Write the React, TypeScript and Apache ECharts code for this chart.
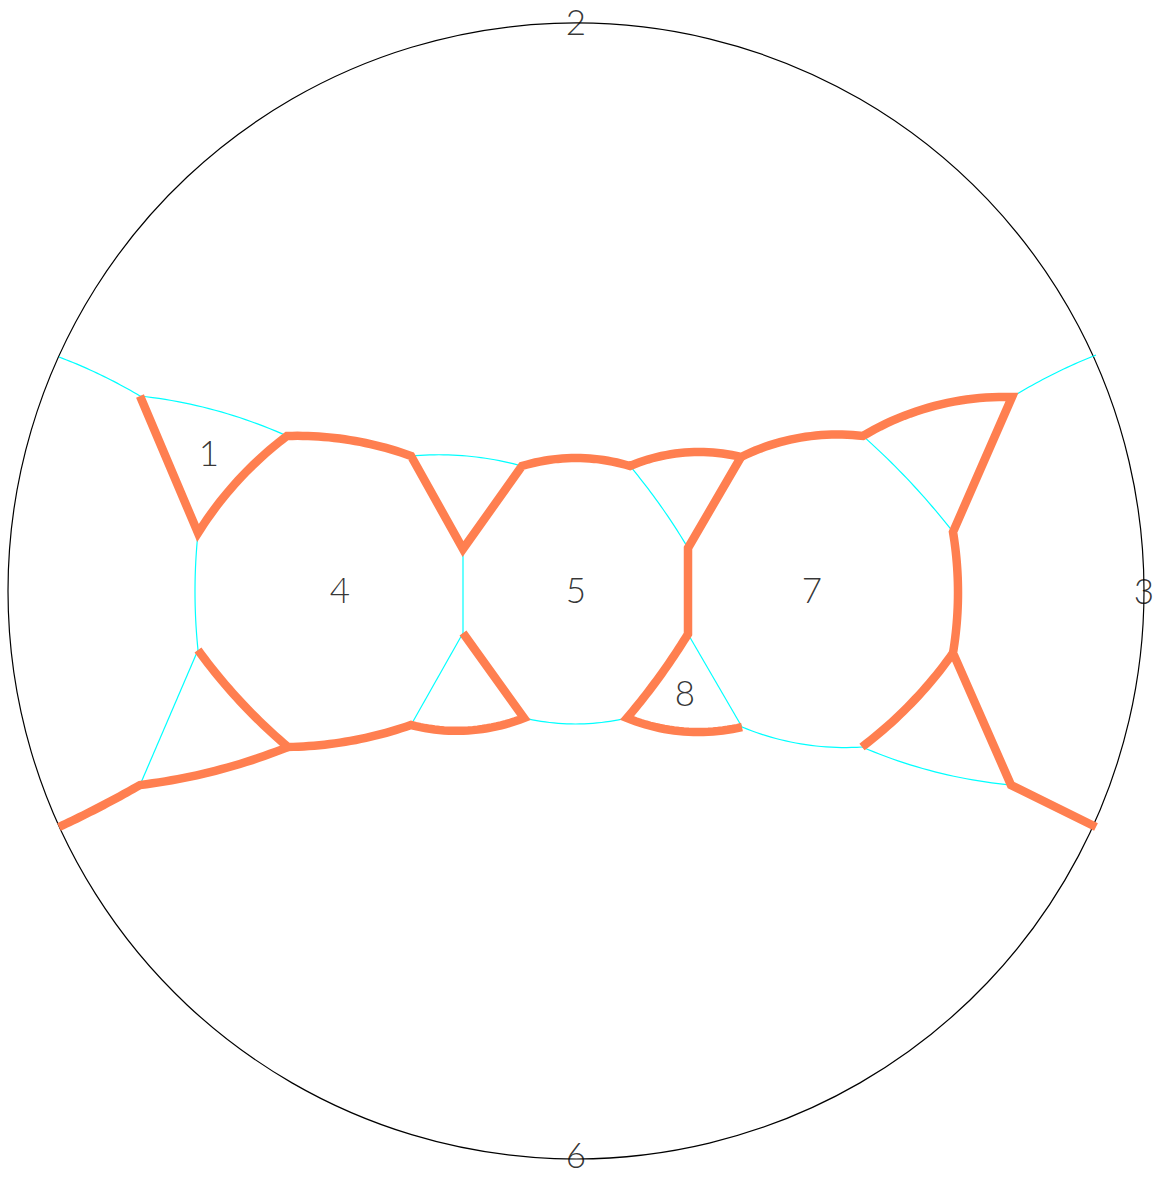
import React, { useEffect, useRef } from "react";
import * as echarts from "echarts";

// Vertices of the drawing, in disk units (disk centre at 0,0; radius 568; y up)
const vertexNames = ["A", "B", "C", "D", "E", "F", "G", "H", "I", "J", "K", "L", "M", "N", "O", "P", "Q", "R", "S", "T", "U", "V", "W", "X", "Y", "Z", "AA", "AB"];
const vertexX = [-517, -436, -378, -289, -165, -113, -54, 54, 165, 112, 112, 287, 436, 520, 377, 377, 286, 435, 520, 166, 51, -52, -113, -165, -288, -378, -436, -517];
const vertexY = [234, 195, 58, 155, 135, 42, 125, 125, 134, 43, -43, 155, 194, 236, 59, -62, -156, -194, -236, -136, -127, -127, -42, -134, -156, -59, -194, -236];

// Thick orange paths (chains of vertices) and the bulge (sagitta) of each segment
const orangeChains = [
  ["B", "C", "D", "E", "F", "G", "H", "I", "L", "M", "O", "P", "R", "S"],
  ["I", "J", "K", "U", "T"],
  ["P", "Q"],
  ["W", "V", "X", "Y", "Z"],
  ["Y", "AA", "AB"],
];
const orangeBulges = [
  [0, 6, 6, 0, 0, 8, 9, 9, 11, 0, 5, 0, 0],
  [0, 0, 2, -9],
  [5],
  [0, 9, 5, 4],
  [5, 1],
];

// Thin cyan edges and their bulges
const cyanEdges = [["A", "B"], ["B", "D"], ["C", "Z"], ["Z", "AA"], ["E", "G"], ["F", "W"], ["W", "X"], ["V", "U"], ["H", "J"], ["K", "T"], ["T", "Q"], ["Q", "R"], ["L", "O"], ["M", "N"]];
const cyanBulges = [2, 6, -3, 0, 5, 0, 0, -6, 2, 0, -7, -6, 3, 2];

// Labels
const regionLabels = ["1", "4", "5", "7", "8"];
const regionLabelX = [-367, -236, 0, 236, 109];
const regionLabelY = [139, 2, 2, 2, -101];
const boundaryLabels = ["2", "3", "6"];
const boundaryLabelX = [0, 568, 0];
const boundaryLabelY = [570, 1, -563];

const DISK_RADIUS = 568;

function vertex(name: string): number[] {
  const i = vertexNames.indexOf(name);
  return [vertexX[i], vertexY[i]];
}

function arcPoints(p1: number[], p2: number[], h: number, steps = 24): number[][] {
  if (Math.abs(h) < 1e-6) return [p1, p2];
  const dx = p2[0] - p1[0];
  const dy = p2[1] - p1[1];
  const c = Math.hypot(dx, dy);
  const nx = -dy / c;
  const ny = dx / c;
  const mx = (p1[0] + p2[0]) / 2;
  const my = (p1[1] + p2[1]) / 2;
  const half = c / 2;
  const ah = Math.abs(h);
  const r = (ah * ah + half * half) / (2 * ah);
  const s = Math.sign(h);
  const cx = mx - s * nx * (r - ah);
  const cy = my - s * ny * (r - ah);
  const a1 = Math.atan2(p1[1] - cy, p1[0] - cx);
  const a2 = Math.atan2(p2[1] - cy, p2[0] - cx);
  let d = a2 - a1;
  while (d > Math.PI) d -= 2 * Math.PI;
  while (d < -Math.PI) d += 2 * Math.PI;
  const pts: number[][] = [];
  for (let k = 0; k <= steps; k++) {
    const a = a1 + (d * k) / steps;
    pts.push([cx + r * Math.cos(a), cy + r * Math.sin(a)]);
  }
  return pts;
}

function chainPoints(chain: string[], bulges: number[]): number[][] {
  const out: number[][] = [];
  for (let i = 0; i < chain.length - 1; i++) {
    const seg = arcPoints(vertex(chain[i]), vertex(chain[i + 1]), bulges[i]);
    if (i > 0) seg.shift();
    out.push(...seg);
  }
  return out;
}

const ORANGE = "#FF7F50";
const CYAN = "#00FFFF";

export default function App() {
  const ref = useRef<HTMLDivElement>(null);
  useEffect(() => {
    if (!ref.current) return;
    const chart = echarts.init(ref.current, undefined, { renderer: "svg" });
    const labelStyle = {
      show: true,
      position: "inside",
      formatter: "{b}",
      color: "#000",
      fontSize: 35,
      lineHeight: 35,
      fontFamily: "Lato, 'DejaVu Sans', sans-serif",
      fontWeight: 300,
    };
    chart.setOption({
      animation: false,
      backgroundColor: "#ffffff",
      grid: { left: 8, top: 23, width: 1136, height: 1136 },
      xAxis: { type: "value", min: -DISK_RADIUS, max: DISK_RADIUS, show: false },
      yAxis: { type: "value", min: -DISK_RADIUS, max: DISK_RADIUS, show: false },
      series: [
        {
          type: "custom",
          name: "disk",
          silent: true,
          clip: false,
          z: 1,
          data: [[0, 0]],
          renderItem: (_params: any, api: any) => {
            const c = api.coord([0, 0]);
            const r = api.size([DISK_RADIUS, 0])[0];
            return {
              type: "circle",
              shape: { cx: c[0], cy: c[1], r },
              style: { fill: "none", stroke: "#000", lineWidth: 1.2 },
            };
          },
        },
        {
          type: "custom",
          name: "cyan",
          silent: true,
          clip: false,
          z: 2,
          data: cyanEdges.map(() => [0, 0]),
          renderItem: (params: any, api: any) => {
            const e = cyanEdges[params.dataIndex];
            const pts = arcPoints(vertex(e[0]), vertex(e[1]), cyanBulges[params.dataIndex]).map((p) => api.coord(p));
            return {
              type: "polyline",
              shape: { points: pts },
              style: { fill: "none", stroke: CYAN, lineWidth: 1.2 },
            };
          },
        },
        {
          type: "custom",
          name: "orange",
          silent: true,
          clip: false,
          z: 3,
          data: orangeChains.map(() => [0, 0]),
          renderItem: (params: any, api: any) => {
            const i = params.dataIndex;
            const pts = chainPoints(orangeChains[i], orangeBulges[i]).map((p) => api.coord(p));
            return {
              type: "polyline",
              shape: { points: pts },
              style: { fill: "none", stroke: ORANGE, lineWidth: 8.5, lineJoin: "miter", miterLimit: 10, lineCap: "butt" },
            };
          },
        },
        {
          type: "scatter",
          name: "regions",
          clip: false,
          z: 4,
          symbolSize: 1,
          itemStyle: { color: "rgba(0,0,0,0)" },
          label: labelStyle,
          data: regionLabels.map((n, i) => ({ name: n, value: [regionLabelX[i], regionLabelY[i]] })),
        },
        {
          type: "scatter",
          name: "boundary",
          clip: false,
          z: 4,
          symbolSize: 1,
          itemStyle: { color: "rgba(0,0,0,0)" },
          label: labelStyle,
          data: boundaryLabels.map((n, i) => ({ name: n, value: [boundaryLabelX[i], boundaryLabelY[i]] })),
        },
      ],
    });
    return () => chart.dispose();
  }, []);
  return (
    <div
      ref={ref}
      style={{ position: "absolute", left: 0, top: 0, width: 1154, height: 1177, background: "#fff" }}
    />
  );
}
